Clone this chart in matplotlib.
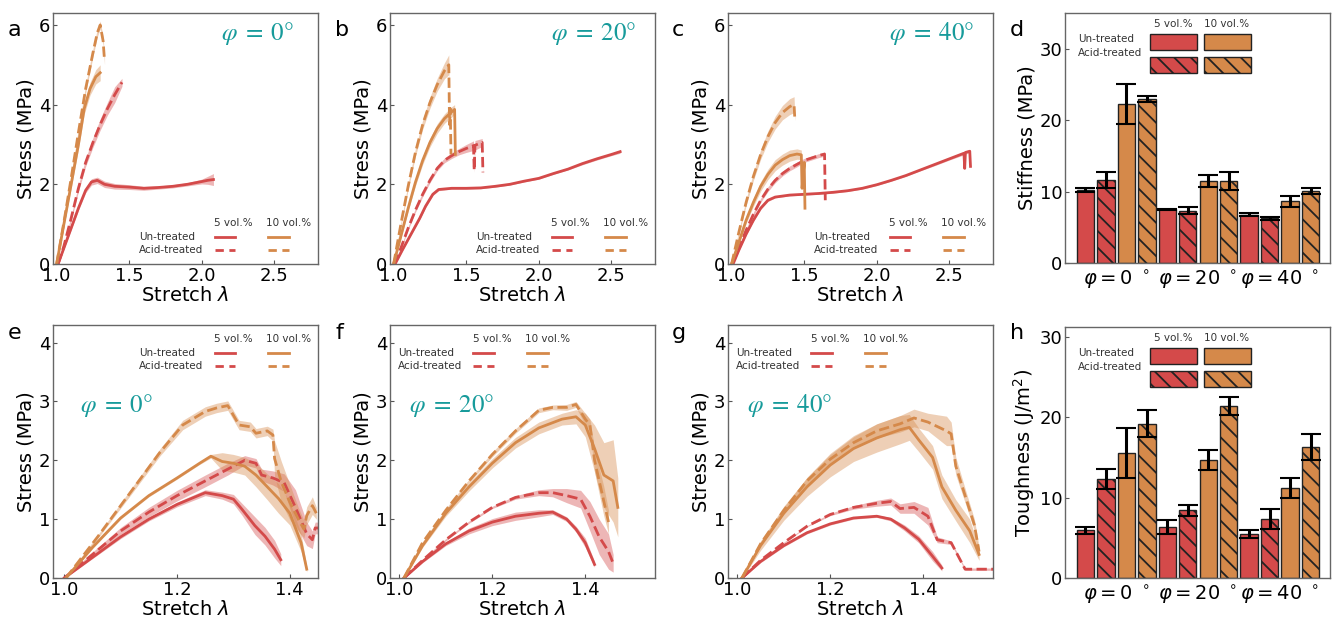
import numpy as np
import matplotlib.pyplot as plt
from matplotlib.patches import Rectangle

plt.rcParams['font.family'] = 'DejaVu Sans'
plt.rcParams['hatch.linewidth'] = 1.3

RED = '#d44a4a'
ORANGE = '#d5894a'
TEAL = '#179b9b'

# stress-stretch curves, rows of (stretch, stress, sd)
# u = un-treated, a = acid-treated, 5 / 10 vol.%
a_u5 = [(1.01, 0, 0.02), (1.05, 0.4, 0.03), (1.1, 0.9, 0.04), (1.15, 1.4, 0.05), (1.2, 1.85, 0.06),
        (1.24, 2.06, 0.08), (1.28, 2.1, 0.08), (1.33, 2.0, 0.08), (1.4, 1.95, 0.07), (1.5, 1.93, 0.06),
        (1.6, 1.9, 0.05), (1.7, 1.92, 0.04), (1.8, 1.95, 0.04), (1.9, 2.0, 0.04), (2.0, 2.07, 0.06),
        (2.04, 2.1, 0.1), (2.08, 2.12, 0.15)]
a_a5 = [(1.01, 0, 0.02), (1.05, 0.45, 0.04), (1.1, 1.15, 0.06), (1.15, 1.9, 0.08), (1.2, 2.55, 0.1),
        (1.25, 3.05, 0.12), (1.3, 3.5, 0.14), (1.35, 3.9, 0.16), (1.4, 4.25, 0.2), (1.45, 4.56, 0.1)]
a_u10 = [(1.0, 0, 0.02), (1.05, 1.0, 0.06), (1.1, 2.0, 0.1), (1.15, 3.0, 0.12), (1.19, 3.9, 0.14),
         (1.23, 4.4, 0.16), (1.27, 4.7, 0.18), (1.3, 4.8, 0.2)]
a_a10 = [(1.0, 0, 0.02), (1.05, 1.05, 0.05), (1.1, 2.15, 0.08), (1.15, 3.3, 0.1), (1.2, 4.4, 0.1),
         (1.25, 5.3, 0.1), (1.28, 5.8, 0.1), (1.3, 6.0, 0.1), (1.32, 5.6, 0.1), (1.33, 5.1, 0.1)]

b_u5 = [(1.01, 0, 0.01), (1.06, 0.35, 0.02), (1.12, 0.75, 0.02), (1.18, 1.15, 0.03), (1.22, 1.45, 0.03),
        (1.27, 1.75, 0.03), (1.31, 1.87, 0.03), (1.4, 1.9, 0.02), (1.5, 1.9, 0.02), (1.6, 1.91, 0.02),
        (1.7, 1.95, 0.02), (1.8, 2.0, 0.02), (1.9, 2.08, 0.02), (2.0, 2.15, 0.02), (2.1, 2.27, 0.02),
        (2.2, 2.38, 0.02), (2.3, 2.52, 0.03), (2.4, 2.64, 0.03), (2.5, 2.75, 0.03), (2.56, 2.82, 0.04)]
b_a5 = [(1.0, 0, 0.02), (1.05, 0.4, 0.03), (1.1, 0.9, 0.04), (1.15, 1.35, 0.05), (1.2, 1.75, 0.06),
        (1.25, 2.1, 0.06), (1.3, 2.4, 0.06), (1.35, 2.6, 0.06), (1.4, 2.72, 0.07), (1.45, 2.82, 0.08),
        (1.5, 2.9, 0.1), (1.55, 2.97, 0.12), (1.555, 2.35, 0.05), (1.56, 2.98, 0.12), (1.61, 3.05, 0.1),
        (1.615, 2.3, 0.05)]
b_u10 = [(1.0, 0, 0.02), (1.05, 0.7, 0.05), (1.1, 1.4, 0.07), (1.15, 2.05, 0.09), (1.2, 2.6, 0.1),
         (1.25, 3.05, 0.11), (1.3, 3.4, 0.12), (1.35, 3.65, 0.12), (1.4, 3.82, 0.13), (1.42, 3.88, 0.12),
         (1.425, 2.75, 0.05)]
b_a10 = [(1.0, 0, 0.02), (1.05, 1.0, 0.05), (1.1, 1.95, 0.08), (1.15, 2.8, 0.1), (1.2, 3.5, 0.12),
         (1.25, 4.05, 0.14), (1.3, 4.5, 0.16), (1.35, 4.85, 0.2), (1.38, 5.0, 0.25), (1.385, 3.5, 0.05),
         (1.39, 3.9, 0.05), (1.395, 2.75, 0.05)]

c_u5 = [(1.01, 0, 0.01), (1.05, 0.35, 0.02), (1.1, 0.75, 0.02), (1.15, 1.1, 0.03), (1.2, 1.4, 0.03),
        (1.25, 1.6, 0.03), (1.3, 1.68, 0.02), (1.4, 1.73, 0.02), (1.5, 1.75, 0.02), (1.6, 1.77, 0.02),
        (1.7, 1.8, 0.02), (1.8, 1.84, 0.02), (1.9, 1.9, 0.02), (2.0, 1.99, 0.02), (2.1, 2.1, 0.02),
        (2.2, 2.22, 0.02), (2.3, 2.36, 0.02), (2.4, 2.5, 0.03), (2.5, 2.64, 0.03), (2.6, 2.78, 0.04),
        (2.605, 2.4, 0.02), (2.61, 2.8, 0.04), (2.64, 2.83, 0.04), (2.645, 2.45, 0.02)]
c_a5 = [(1.0, 0, 0.02), (1.05, 0.4, 0.03), (1.1, 0.85, 0.04), (1.15, 1.25, 0.05), (1.2, 1.6, 0.05),
        (1.25, 1.88, 0.06), (1.3, 2.1, 0.06), (1.35, 2.27, 0.06), (1.4, 2.4, 0.06), (1.45, 2.5, 0.06),
        (1.5, 2.6, 0.05), (1.55, 2.66, 0.05), (1.6, 2.72, 0.05), (1.64, 2.76, 0.05), (1.645, 1.6, 0.02)]
c_u10 = [(1.0, 0, 0.02), (1.05, 0.55, 0.05), (1.1, 1.1, 0.08), (1.15, 1.55, 0.1), (1.2, 1.95, 0.12),
         (1.25, 2.25, 0.13), (1.3, 2.48, 0.14), (1.35, 2.62, 0.14), (1.4, 2.72, 0.14), (1.45, 2.76, 0.13),
         (1.48, 2.74, 0.12), (1.485, 1.9, 0.05), (1.5, 2.55, 0.05), (1.505, 1.4, 0.03)]
c_a10 = [(1.0, 0, 0.02), (1.05, 0.8, 0.05), (1.1, 1.55, 0.08), (1.15, 2.2, 0.1), (1.2, 2.75, 0.12),
         (1.25, 3.2, 0.14), (1.3, 3.55, 0.16), (1.35, 3.8, 0.18), (1.4, 3.95, 0.2), (1.43, 4.0, 0.2),
         (1.435, 3.65, 0.05)]

e_u5 = [(1.0, 0, 0.01), (1.05, 0.35, 0.02), (1.1, 0.7, 0.03), (1.15, 1.0, 0.03), (1.2, 1.25, 0.04),
        (1.25, 1.45, 0.05), (1.28, 1.4, 0.06), (1.3, 1.34, 0.08), (1.315, 1.17, 0.1), (1.338, 0.89, 0.15),
        (1.356, 0.71, 0.15), (1.373, 0.49, 0.15), (1.384, 0.31, 0.1)]
e_a5 = [(1.0, 0, 0.01), (1.05, 0.4, 0.04), (1.1, 0.8, 0.06), (1.15, 1.12, 0.08), (1.2, 1.4, 0.09),
        (1.25, 1.65, 0.1), (1.29, 1.85, 0.1), (1.32, 2.0, 0.08), (1.34, 1.95, 0.08), (1.35, 1.75, 0.1),
        (1.37, 1.7, 0.12), (1.39, 1.62, 0.15), (1.41, 1.2, 0.3), (1.43, 0.75, 0.2), (1.44, 0.65, 0.15),
        (1.445, 0.85, 0.1), (1.45, 0.85, 0.1)]
e_u10 = [(1.003, 0, 0.01), (1.05, 0.52, 0.02), (1.1, 1.02, 0.02), (1.15, 1.4, 0.02), (1.2, 1.7, 0.02),
         (1.24, 1.95, 0.02), (1.26, 2.07, 0.03), (1.28, 1.98, 0.15), (1.3, 1.95, 0.15), (1.32, 1.9, 0.15),
         (1.34, 1.75, 0.2), (1.36, 1.55, 0.22), (1.38, 1.35, 0.25), (1.4, 1.1, 0.2), (1.42, 0.6, 0.15),
         (1.43, 0.15, 0.05)]
e_a10 = [(1.003, 0, 0.01), (1.06, 0.71, 0.03), (1.12, 1.49, 0.05), (1.17, 2.14, 0.06), (1.21, 2.6, 0.08),
         (1.25, 2.83, 0.08), (1.27, 2.89, 0.08), (1.29, 2.93, 0.08), (1.31, 2.6, 0.08), (1.33, 2.57, 0.08),
         (1.34, 2.46, 0.08), (1.36, 2.5, 0.08), (1.37, 2.43, 0.1), (1.373, 2.03, 0.3), (1.385, 1.63, 0.35),
         (1.4, 1.29, 0.3), (1.415, 1.0, 0.2), (1.425, 0.83, 0.15), (1.43, 1.06, 0.15), (1.44, 1.23, 0.15),
         (1.447, 1.1, 0.1)]

f_u5 = [(1.01, 0, 0.01), (1.05, 0.28, 0.02), (1.1, 0.58, 0.03), (1.15, 0.8, 0.05), (1.2, 0.95, 0.06),
        (1.25, 1.05, 0.07), (1.3, 1.1, 0.06), (1.33, 1.12, 0.04), (1.36, 1.0, 0.04), (1.38, 0.83, 0.05),
        (1.4, 0.6, 0.08), (1.42, 0.23, 0.05)]
f_a5 = [(1.01, 0, 0.01), (1.05, 0.3, 0.02), (1.1, 0.65, 0.02), (1.15, 0.95, 0.02), (1.2, 1.2, 0.02),
        (1.25, 1.37, 0.03), (1.3, 1.45, 0.05), (1.33, 1.45, 0.07), (1.36, 1.4, 0.12), (1.39, 1.34, 0.15),
        (1.41, 1.05, 0.25), (1.43, 0.7, 0.3), (1.45, 0.45, 0.3), (1.46, 0.25, 0.15)]
f_u10 = [(1.01, 0, 0.01), (1.05, 0.55, 0.03), (1.1, 1.1, 0.05), (1.15, 1.55, 0.07), (1.2, 1.95, 0.08),
         (1.25, 2.3, 0.09), (1.3, 2.55, 0.1), (1.35, 2.7, 0.1), (1.38, 2.74, 0.12), (1.4, 2.6, 0.2),
         (1.42, 2.2, 0.4), (1.44, 1.75, 0.55), (1.46, 1.65, 0.7), (1.47, 1.2, 0.5)]
f_a10 = [(1.01, 0, 0.01), (1.05, 0.6, 0.02), (1.1, 1.15, 0.03), (1.15, 1.65, 0.03), (1.2, 2.1, 0.04),
         (1.25, 2.5, 0.04), (1.3, 2.85, 0.04), (1.33, 2.9, 0.04), (1.36, 2.9, 0.05), (1.38, 2.95, 0.05),
         (1.4, 2.7, 0.1), (1.41, 2.6, 0.1), (1.42, 2.0, 0.2), (1.44, 1.3, 0.25), (1.45, 0.95, 0.2)]

g_u5 = [(1.01, 0, 0.01), (1.05, 0.28, 0.02), (1.1, 0.55, 0.02), (1.15, 0.77, 0.02), (1.2, 0.92, 0.02),
        (1.25, 1.02, 0.02), (1.3, 1.05, 0.02), (1.33, 1.0, 0.03), (1.36, 0.85, 0.05), (1.39, 0.66, 0.06),
        (1.42, 0.37, 0.08), (1.44, 0.17, 0.05)]
g_a5 = [(1.01, 0, 0.01), (1.05, 0.3, 0.01), (1.1, 0.6, 0.01), (1.15, 0.88, 0.01), (1.2, 1.08, 0.02),
        (1.25, 1.2, 0.03), (1.3, 1.27, 0.05), (1.33, 1.3, 0.06), (1.35, 1.18, 0.08), (1.38, 1.2, 0.1),
        (1.41, 1.05, 0.15), (1.43, 0.65, 0.05), (1.46, 0.6, 0.03), (1.48, 0.3, 0.02), (1.49, 0.15, 0.02),
        (1.55, 0.15, 0.02)]
g_u10 = [(1.01, 0, 0.01), (1.05, 0.55, 0.08), (1.1, 1.1, 0.12), (1.15, 1.55, 0.16), (1.2, 1.92, 0.2),
         (1.25, 2.2, 0.22), (1.3, 2.38, 0.24), (1.35, 2.52, 0.24), (1.37, 2.56, 0.22), (1.39, 2.35, 0.2),
         (1.42, 2.05, 0.2), (1.44, 1.55, 0.2), (1.47, 1.15, 0.18), (1.5, 0.8, 0.2), (1.52, 0.4, 0.1)]
g_a10 = [(1.01, 0, 0.01), (1.05, 0.58, 0.03), (1.1, 1.15, 0.05), (1.15, 1.65, 0.06), (1.2, 2.02, 0.08),
         (1.25, 2.3, 0.1), (1.3, 2.5, 0.12), (1.35, 2.62, 0.14), (1.38, 2.72, 0.15), (1.41, 2.65, 0.15),
         (1.45, 2.5, 0.25), (1.46, 2.45, 0.2), (1.47, 1.9, 0.15), (1.49, 1.4, 0.12), (1.51, 0.9, 0.1),
         (1.52, 0.45, 0.08)]

# bar panels: 4 bars per angle (5 un, 5 acid, 10 un, 10 acid)
group_labels = [r'$\varphi = 0\ ^\circ$', r'$\varphi = 20\ ^\circ$', r'$\varphi = 40\ ^\circ$']
stiff_mean = [10.2, 11.6, 22.2, 23.0, 7.53, 7.35, 11.5, 11.5, 6.74, 6.28, 8.65, 10.1]
stiff_err = [0.3, 1.15, 2.8, 0.45, 0.05, 0.45, 0.85, 1.3, 0.2, 0.2, 0.75, 0.45]
tough_mean = [5.92, 12.3, 15.5, 19.2, 6.33, 8.4, 14.7, 21.4, 5.46, 7.32, 11.17, 16.3]
tough_err = [0.4, 1.24, 3.1, 1.7, 0.9, 0.72, 1.24, 1.1, 0.54, 1.26, 1.24, 1.65]

angles = ['0', '20', '40']


def draw_curve(ax, pts, color, ls):
    x, y, sd = np.array(pts, dtype=float).T
    ax.fill_between(x, y - sd, y + sd, color=color, alpha=0.4, lw=0)
    ax.plot(x, y, color=color, ls=ls, lw=2)


def style_ax(ax):
    ax.tick_params(direction='in', length=3, width=0.8, labelsize=13, pad=2, color='#555555')
    for s in ax.spines.values():
        s.set_color('#666666')
        s.set_linewidth(1)


def phi_text(ax, x, y, ang, ha):
    ax.text(x, y, r'$\varphi\;=\;%s°$' % ang, transform=ax.transAxes, ha=ha, va='center',
            color=TEAL, fontsize=18, math_fontfamily='stix')


def line_legend(ax, x0, y0):
    tr = ax.transAxes
    kw = dict(transform=tr, fontsize=7.5, color='#333333', va='center')
    ax.text(x0 + 0.355, y0 + 0.055, '5 vol.%', ha='center', **kw)
    ax.text(x0 + 0.565, y0 + 0.055, '10 vol.%', ha='center', **kw)
    ax.text(x0, y0, 'Un-treated', ha='left', **kw)
    ax.text(x0, y0 - 0.053, 'Acid-treated', ha='left', **kw)
    for dx, col in [(0.285, RED), (0.487, ORANGE)]:
        ax.plot([x0 + dx, x0 + dx + 0.078], [y0, y0], color=col, lw=2, transform=tr)
        ax.plot([x0 + dx, x0 + dx + 0.078], [y0 - 0.053] * 2, color=col, lw=2, ls='--',
                dashes=(3, 2), transform=tr)


def bar_legend(ax):
    tr = ax.transAxes
    kw = dict(transform=tr, fontsize=7.5, color='#333333', va='center')
    ax.text(0.41, 0.955, '5 vol.%', ha='center', **kw)
    ax.text(0.61, 0.955, '10 vol.%', ha='center', **kw)
    ax.text(0.05, 0.895, 'Un-treated', ha='left', **kw)
    ax.text(0.05, 0.84, 'Acid-treated', ha='left', **kw)
    for x0, col in [(0.32, RED), (0.524, ORANGE)]:
        for yb, hatch in [(0.852, None), (0.76, '\\\\')]:
            ax.add_patch(Rectangle((x0, yb), 0.178, 0.064, transform=tr, facecolor=col,
                                   edgecolor='#222222', lw=1, hatch=hatch, clip_on=False))


fig = plt.figure(figsize=(13.38, 6.25), dpi=100)
W, H = 1338, 625


def add_ax(left, top, right, bottom):
    return fig.add_axes([left / W, 1 - bottom / H, (right - left) / W, (bottom - top) / H])


lefts = [53, 390, 728, 1065]
top_curves = [(a_u5, a_a5, a_u10, a_a10), (b_u5, b_a5, b_u10, b_a10), (c_u5, c_a5, c_u10, c_a10)]
bot_curves = [(e_u5, e_a5, e_u10, e_a10), (f_u5, f_a5, f_u10, f_a10), (g_u5, g_a5, g_u10, g_a10)]
top_letters = ['a', 'b', 'c', 'd']
bot_letters = ['e', 'f', 'g', 'h']
letter_x = [8, 335, 672, 1010]

for i in range(3):
    ax = add_ax(lefts[i], 13, lefts[i] + 265, 264)
    u5, a5, u10, a10 = top_curves[i]
    draw_curve(ax, u5, RED, '-')
    draw_curve(ax, a5, RED, '--')
    draw_curve(ax, u10, ORANGE, '-')
    draw_curve(ax, a10, ORANGE, '--')
    ax.set_xlim(0.975, 2.8)
    ax.set_ylim(0, 6.3)
    ax.set_xticks([1.0, 1.5, 2.0, 2.5])
    ax.set_yticks([0, 2, 4, 6])
    style_ax(ax)
    ax.set_xlabel(r'Stretch $\lambda$', fontsize=14, labelpad=1)
    ax.set_ylabel('Stress (MPa)', fontsize=14, labelpad=2)
    phi_text(ax, 0.77, 0.92, angles[i], 'center')
    line_legend(ax, 0.325, 0.108)

    ax = add_ax(lefts[i], 325, lefts[i] + 265, 578)
    u5, a5, u10, a10 = bot_curves[i]
    draw_curve(ax, u5, RED, '-')
    draw_curve(ax, a5, RED, '--')
    draw_curve(ax, u10, ORANGE, '-')
    draw_curve(ax, a10, ORANGE, '--')
    ax.set_xlim(0.98, 1.45 if i == 0 else 1.55)
    ax.set_ylim(0, 4.3)
    ax.set_xticks([1.0, 1.2, 1.4])
    ax.set_yticks([0, 1, 2, 3, 4])
    style_ax(ax)
    ax.set_xlabel(r'Stretch $\lambda$', fontsize=14, labelpad=1)
    ax.set_ylabel('Stress (MPa)', fontsize=14, labelpad=2)
    phi_text(ax, 0.1 if i == 0 else 0.07, 0.68, angles[i], 'left')
    line_legend(ax, 0.325 if i == 0 else 0.03, 0.89)

# bar charts
colors = [RED, RED, ORANGE, ORANGE] * 3
hatches = [None, '\\\\', None, '\\\\'] * 3
pos = np.arange(12)
for row, (mean, err, ylab, ylim, top, bot) in enumerate([
        (stiff_mean, stiff_err, 'Stiffness (MPa)', 35, 13, 263),
        (tough_mean, tough_err, 'Toughness (J/m$^2$)', 31.2, 327, 578)]):
    ax = add_ax(1065, top, 1330, bot)
    for p, m, c, h in zip(pos, mean, colors, hatches):
        ax.bar(p, m, width=0.85, color=c, edgecolor='#222222', lw=1, hatch=h)
    ax.errorbar(pos, mean, yerr=err, fmt='none', ecolor='black', elinewidth=2.2,
                capsize=7, capthick=1.5)
    ax.set_xlim(-1, 11.95)
    ax.set_ylim(0, ylim)
    ax.set_yticks([0, 10, 20, 30])
    ax.set_xticks([1.5, 5.5, 9.5])
    ax.set_xticklabels(group_labels)
    style_ax(ax)
    ax.tick_params(axis='x', length=0, labelsize=14, pad=4)
    ax.set_ylabel(ylab, fontsize=14, labelpad=2)
    bar_legend(ax)

for i in range(4):
    fig.text(letter_x[i] / W, 1 - 30 / H, top_letters[i], fontsize=16, va='center')
    fig.text(letter_x[i] / W, 1 - 333 / H, bot_letters[i], fontsize=16, va='center')

fig.savefig('out.png', dpi=100)
